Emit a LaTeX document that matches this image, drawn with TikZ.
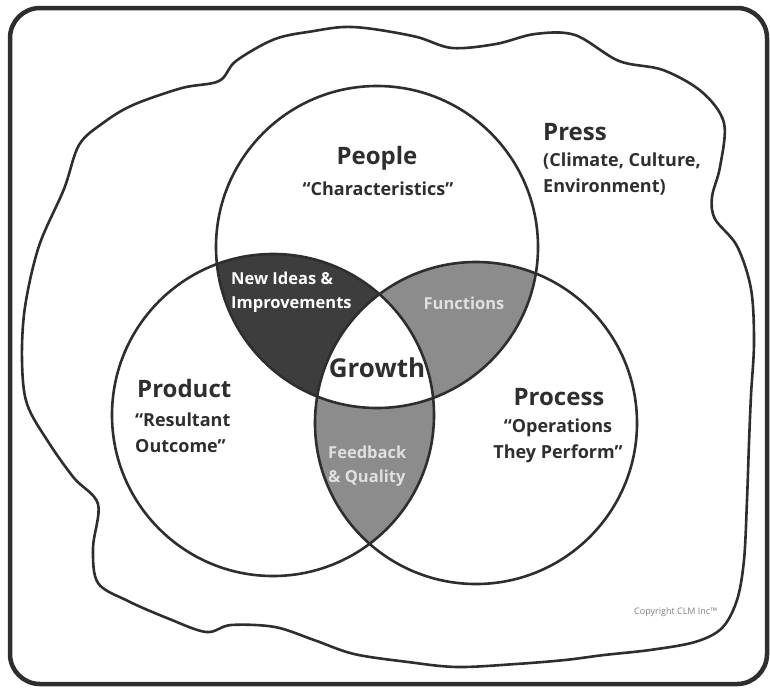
\documentclass[tikz,border=0pt]{standalone}
\usepackage{fontspec}
\setmainfont{Open Sans}
\usepackage{xcolor}
\usetikzlibrary{positioning,calc}
\definecolor{darklens}{gray}{0.24}
\definecolor{midlens}{gray}{0.55}
\definecolor{ink}{gray}{0.18}
\definecolor{paleink}{gray}{0.88}

\begin{document}
\begin{tikzpicture}[x = 1pt, y = -1pt,
    ring/.style = {line width = 2.6pt, draw = ink},
    title/.style = {font = \fontsize{24}{26}\selectfont\bfseries, text = ink, inner sep = 0pt},
    sub/.style = {font = \fontsize{18}{26}\selectfont\bfseries, text = ink, inner sep = 0pt},
    lenstext/.style = {font = \fontsize{16.5}{24}\selectfont\bfseries, inner sep = 0pt}]
    \useasboundingbox (0,0) rectangle (770,688);
    \fill[white] (0,0) rectangle (770,688);
    \coordinate (cpeople) at (377,247);
    \coordinate (cproduct) at (273,415);
    \coordinate (cprocess) at (476,423);
    %%%%%%%%%%
    % the press around everything
    \draw[line width = 2.6pt, draw = ink] plot[smooth cycle, tension = 0.55] coordinates {
        (344,27) (373,29) (417,37) (452,48) (496,44) (535,34) (575,35) (619,61)
        (663,70) (702,92) (724,123) (720,167) (712,197) (715,219) (737,246)
        (751,289) (754,342) (751,395) (749,443) (747,500) (744,560) (737,600)
        (722,628) (695,642) (650,650) (604,655) (565,660) (516,664) (457,667)
        (408,662) (354,654) (314,640) (275,627) (231,625) (206,632) (167,618)
        (128,601) (98,583) (93,548) (98,504) (74,478) (49,443) (27,404)
        (22,360) (25,307) (39,246) (64,189) (79,145) (103,123) (133,105)
        (182,88) (219,81) (236,61) (275,39) (314,31)};
    %%%%%%%%%%
    \begin{scope}
        \clip (cpeople) circle (161pt);
        \fill[darklens] (cproduct) circle (161pt);
        \fill[midlens] (cprocess) circle (161pt);
    \end{scope}
    \begin{scope}
        \clip (cproduct) circle (161pt);
        \fill[midlens] (cprocess) circle (161pt);
    \end{scope}
    \begin{scope}
        \clip (cpeople) circle (161pt);
        \clip (cproduct) circle (161pt);
        \fill[white] (cprocess) circle (161pt);
    \end{scope}
    \draw[ring] (cpeople) circle (161pt);
    \draw[ring] (cproduct) circle (161pt);
    \draw[ring] (cprocess) circle (161pt);
    %%%%%%%%%%
    \node[title] (people) at (377,158) {People};
    \node[sub] (peoplesub) at (378,189) {“Characteristics”};
    \node[title, anchor = west] (press) at (543,132) {Press};
    \node[sub, anchor = west, align = left] (presssub) at (543,174) {(Climate, Culture,\\Environment)};
    \node[title, anchor = west] (product) at (137,388) {Product};
    \node[sub, anchor = west, align = left] (productsub) at (135,433) {“Resultant\\Outcome”};
    \node[title] (process) at (559,397) {Process};
    \node[sub, align = center] (processsub) at (558,441) {“Operations\\They Perform”};
    %%%%%%%%%%
    \node[lenstext, text = white, anchor = west, align = left] (ideas) at (231,292) {New Ideas \&\\Improvements};
    \node[lenstext, text = paleink] (functions) at (464,303) {Functions};
    \node[lenstext, text = paleink, anchor = west, align = left] (feedback) at (328,466) {Feedback\\\& Quality};
    \node[title, font = \fontsize{26}{28}\selectfont\bfseries] (growth) at (377,368) {Growth};
    \node[font = \fontsize{9}{10}\selectfont, text = gray, anchor = west, inner sep = 0pt] (copyright) at (634,612) {Copyright CLM Inc™};
    %%%%%%%%%%
    \draw[line width = 4.5pt, draw = ink, rounded corners = 30pt] (10,8) rectangle (767,684);
\end{tikzpicture}
\end{document}
